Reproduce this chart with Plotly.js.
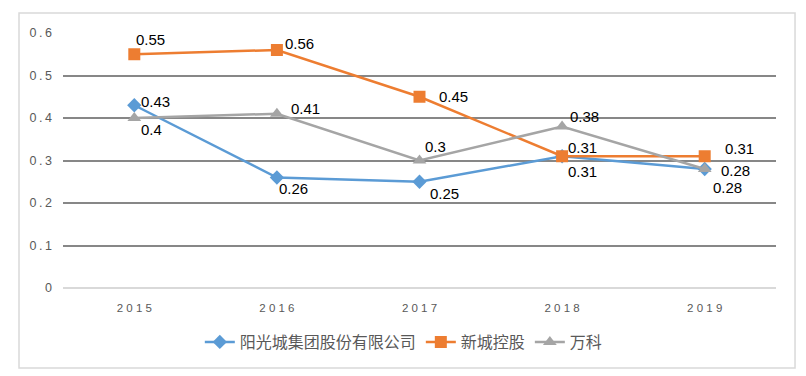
<!DOCTYPE html>
<html><head><meta charset="utf-8">
<script src="https://cdn.plot.ly/plotly-3.0.1.min.js"></script>
<style>html,body{margin:0;padding:0;background:#fff;}#chart{width:806px;height:376px;}</style>
</head><body><div id="chart"></div>
<script>
const years = ['2015','2016','2017','2018','2019'];
const yearLabels = ['2 0 1 5','2 0 1 6','2 0 1 7','2 0 1 8','2 0 1 9'];
const yTickVals = [0, 0.1, 0.2, 0.3, 0.4, 0.5, 0.6];
const yTickText = ['0','0\u2009.\u20091','0\u2009.\u20092','0\u2009.\u20093','0\u2009.\u20094','0\u2009.\u20095','0\u2009.\u20096'];
const seriesNames = ['阳光城集团股份有限公司','新城控股','万科'];
const yangguangcheng = [0.43, 0.26, 0.25, 0.31, 0.28];
const xincheng = [0.55, 0.56, 0.45, 0.31, 0.31];
const vanke = [0.40, 0.41, 0.30, 0.38, 0.28];

const colors = ['#5B9BD5','#ED7D31','#A5A5A5'];
const symbols = ['diamond','square','triangle-up'];
const msizes = [11, 12, 12];
const allVals = [yangguangcheng, xincheng, vanke];
// label offsets (px) per series per point: [xshift, yshift]
const offs = [
  [[5,4],[0,-11],[8,-12],[4,-15],[6,-18]],
  [[0,15],[6,7],[17,0],[4,9],[18,8]],
  [[5,-11],[12,5],[3,14],[6,10],[14,-1]]
];

const traces = allVals.map((v,i)=>({
  x: years.map((_,j)=>j), y: v, name: seriesNames[i], type:'scatter', mode:'lines+markers',
  line:{color:colors[i], width:2.5},
  marker:{symbol:symbols[i], size:msizes[i], color:colors[i]},
  hoverinfo:'none'
}));

const annotations = [];
allVals.forEach((v,i)=>{
  v.forEach((val,j)=>{
    annotations.push({x:j, y:val, xref:'x', yref:'y', text:String(val),
      showarrow:false, xanchor:'left', yanchor:'middle',
      xshift:offs[i][j][0], yshift:offs[i][j][1],
      font:{family:'Liberation Sans', size:15, color:'#000000'}});
  });
});

const layout = {
  width:806, height:376,
  margin:{l:63, r:30, t:33, b:88},
  paper_bgcolor:'#fff', plot_bgcolor:'#fff',
  showlegend:true,
  legend:{orientation:'h', x:0.478, xanchor:'center', y:-0.212, yanchor:'middle',
    font:{family:'Noto Sans CJK SC, sans-serif', size:16, color:'#595959'}},
  xaxis:{range:[-0.5,4.5], tickmode:'array', tickvals:years.map((_,j)=>j), ticktext:yearLabels,
    showgrid:false, zeroline:false, showline:false, ticks:'',
    tickfont:{family:'Liberation Sans, Arial, sans-serif', size:11.5, color:'#595959'},
    ticklabelstandoff:11},
  yaxis:{range:[0,0.6], tickmode:'array', tickvals:yTickVals, ticktext:yTickText,
    showgrid:true, gridcolor:'#878787', gridwidth:2,
    zeroline:true, zerolinecolor:'#d9d9d9', zerolinewidth:2, showline:false, ticks:'',
    tickfont:{family:'Liberation Sans, Arial, sans-serif', size:12.5, color:'#595959'},
    ticklabelstandoff:10},
  annotations: annotations,
  shapes:[{type:'rect', xref:'paper', yref:'paper', x0:-0.0617, x1:1.0267, y0:-0.3137, y1:1.078,
    line:{color:'#d9d9d9', width:1.5}, fillcolor:'rgba(0,0,0,0)', layer:'below'}]
};
Plotly.newPlot('chart', traces, layout, {displayModeBar:false});
</script></body></html>
